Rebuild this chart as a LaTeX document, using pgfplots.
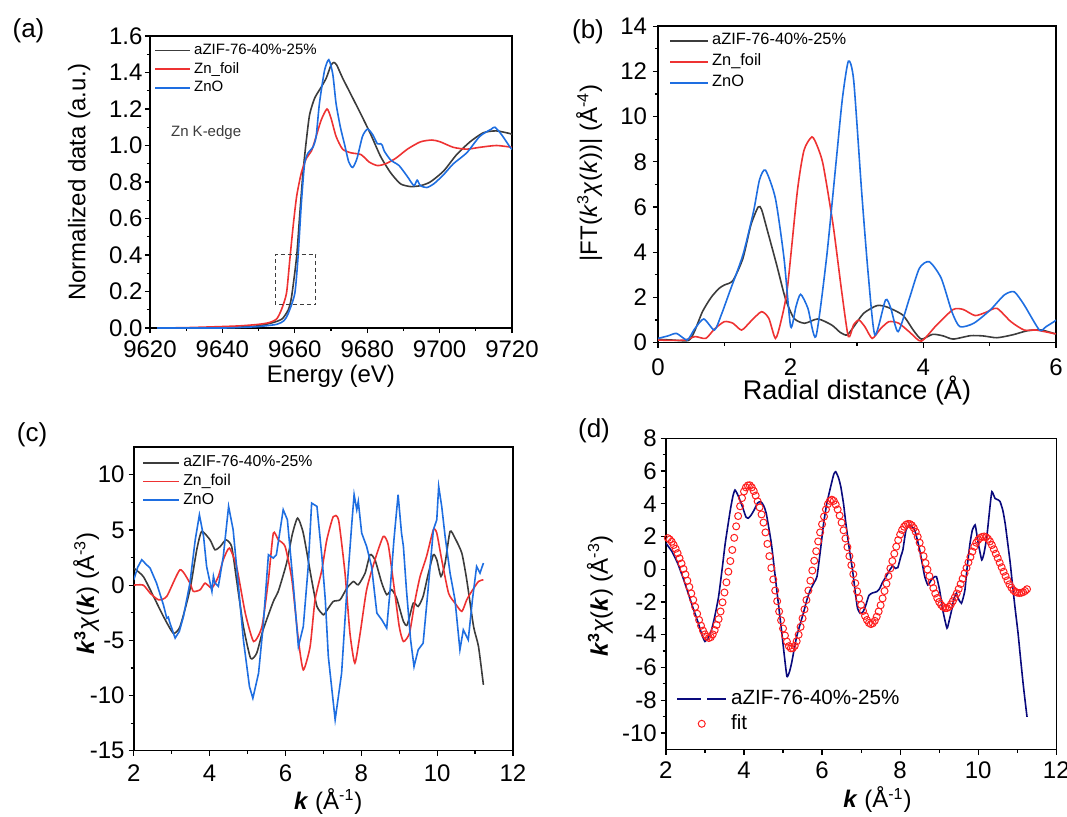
\documentclass[border=0pt]{standalone}
\usepackage{pgfplots}
\pgfplotsset{compat=1.18}
\usepackage{fontspec}
\setmainfont{Liberation Sans}
\definecolor{cblk}{RGB}{60,60,60}
\definecolor{cred}{RGB}{238,50,50}
\definecolor{cblu}{RGB}{30,110,225}
\definecolor{cnavy}{RGB}{10,10,125}
\definecolor{cfit}{RGB}{255,30,30}
\pgfplotsset{
  myaxis/.style={
    scale only axis,
    anchor=south west,
    axis line style={line width=0.75pt},
    tick align=outside,
    xtick pos=left, ytick pos=left,
    minor tick num=1,
    major tick length=2.6pt, minor tick length=1.6pt,
    every tick/.style={black, line width=0.6pt},
    tick label style={font=\fontsize{12}{14}\selectfont, inner sep=1pt},
    /pgf/number format/assume math mode=true,
    label style={font=\fontsize{12}{14}\selectfont},
    legend cell align=left,
    every axis plot/.append style={line width=0.8pt},
  },
  dashleg/.style={legend image code/.code={\draw[##1, line width=0.8pt, dash pattern=on 12pt off 3pt on 12pt] (0pt,0pt) -- (24.5pt,0pt);}},
  markleg/.style={legend image code/.code={\draw[##1] plot coordinates {(12.25pt,0pt)};}},
}
\begin{document}
\begin{tikzpicture}
\useasboundingbox (0,0) rectangle (533.5pt,408pt);
% ---------------- (a)
\begin{axis}[myaxis, at={(75pt,244pt)}, width=181pt, height=146pt,
  xmin=9620, xmax=9720, ymin=0, ymax=1.6,
  xtick={9620,9640,...,9720}, ytick={0,0.2,...,1.6},
  x tick label style={yshift=-2.7pt, /pgf/number format/1000 sep={}},
  y tick label style={xshift=0pt, /pgf/number format/fixed, /pgf/number format/fixed zerofill, /pgf/number format/precision=1},
  xlabel={Energy (eV)}, ylabel={Normalized data (a.u.)},
  xlabel style={at={(axis description cs:0.5,-0.167)}, anchor=center},
  ylabel style={at={(axis description cs:-0.196,0.5)}, anchor=center},
  legend style={at={(axis description cs:0.011,0.976)}, anchor=north west, draw=none, fill=none, inner sep=0pt, row sep=2.4pt, column sep=1.5pt, font=\fontsize{7.5}{9}\selectfont, nodes={inner sep=0pt, text height=5.4pt, text depth=1.6pt}},
  legend image code/.code={\draw[#1, line width=0.9pt] (0pt,0pt) -- (17.5pt,0pt);},
]
\addplot[cblk, smooth, tension=0.4] coordinates {(9622,0) (9630,0) (9640,0.002) (9645,0.005) (9650,0.012) (9654,0.03) (9656.5,0.05) (9658.2,0.1) (9659.1,0.17) (9660.5,0.39) (9661.4,0.63) (9662.3,0.86) (9663.2,1.03) (9664.1,1.17) (9665.5,1.26) (9667.3,1.32) (9668.7,1.37) (9670.0,1.44) (9670.8,1.455) (9671.6,1.44) (9673.2,1.37) (9675.5,1.28) (9678.3,1.17) (9681.0,1.06) (9683.7,0.94) (9686.5,0.85) (9689.2,0.79) (9692.0,0.775) (9694.7,0.78) (9697.4,0.80) (9701.1,0.86) (9704.7,0.95) (9708.4,1.02) (9712.1,1.07) (9715.7,1.08) (9719.5,1.065) (9720,1.06)};
\addlegendentry{aZIF-76-40\%-25\%}
\addplot[cred, smooth, tension=0.4] coordinates {(9622,0) (9630,0.002) (9640,0.008) (9645,0.012) (9650,0.02) (9653,0.03) (9655,0.05) (9656.3,0.10) (9657.7,0.19) (9658.6,0.37) (9659.5,0.55) (9660.5,0.72) (9661.8,0.85) (9663.2,0.93) (9664.6,0.97) (9665.9,1.05) (9667.3,1.14) (9668.9,1.20) (9670.0,1.15) (9671.4,1.05) (9673.2,0.98) (9675.5,0.96) (9678.3,0.95) (9680.5,0.91) (9682.8,0.89) (9685.1,0.90) (9687.9,0.93) (9691.1,0.98) (9694.7,1.02) (9697.9,1.03) (9700.2,1.02) (9703.8,0.99) (9707.5,0.98) (9711.1,0.99) (9715.7,1.0) (9720,0.99)};
\addlegendentry{Zn\_foil}
\addplot[cblu, smooth, tension=0.4] coordinates {(9622,0) (9640,0) (9645,0.003) (9650,0.008) (9655,0.02) (9657,0.04) (9658.2,0.08) (9660.0,0.19) (9660.9,0.39) (9661.8,0.68) (9662.7,0.90) (9663.7,0.96) (9665.0,0.99) (9665.9,1.05) (9666.8,1.23) (9668.2,1.41) (9669.4,1.47) (9670.5,1.39) (9671.4,1.23) (9672.6,1.10) (9673.7,1.01) (9674.9,0.91) (9676.0,0.88) (9677.2,0.93) (9678.7,1.05) (9680.1,1.09) (9681.5,1.06) (9682.8,1.01) (9683.7,1.01) (9684.2,1.0) (9684.7,0.97) (9686.5,0.92) (9688.8,0.89) (9691.1,0.83) (9692.9,0.78) (9693.8,0.81) (9694.7,0.78) (9696.5,0.77) (9698.4,0.79) (9701.1,0.84) (9703.8,0.90) (9707.5,0.96) (9711.1,1.05) (9714.3,1.09) (9715.3,1.10) (9717.1,1.06) (9719.5,0.99) (9720,0.98)};
\addlegendentry{ZnO}
\draw[cblk, line width=0.5pt, dash pattern=on 2pt off 1.5pt] (axis cs:9654.6,0.127) rectangle (axis cs:9665.8,0.405);
\node[font=\fontsize{7.5}{9}\selectfont, text=cblk] at (axis cs:9635.5,1.07) {Zn K-edge};
\end{axis}
% ---------------- (b)
\begin{axis}[myaxis, at={(329pt,236.65pt)}, width=199pt, height=158.3pt,
  xmin=0, xmax=6, ymin=0, ymax=14,
  xtick={0,2,4,6}, ytick={0,2,...,14},
  x tick label style={yshift=-4.2pt},
  y tick label style={xshift=-1.7pt},
  xlabel={Radial distance (Å)}, ylabel={|FT(\textit{k}\textsuperscript{3}\textit{χ}(\textit{k}))| (Å\textsuperscript{-4})},
  xlabel style={font=\fontsize{13.5}{15}\selectfont, at={(axis description cs:0.5,-0.15)}, anchor=center},
  ylabel style={at={(axis description cs:-0.173,0.536)}, anchor=center},
  legend style={at={(axis description cs:0.027,0.979)}, anchor=north west, draw=none, fill=none, inner sep=0pt, row sep=2.9pt, column sep=1.6pt, font=\fontsize{8.2}{10}\selectfont, nodes={inner sep=0pt, text height=5.9pt, text depth=1.7pt}},
  legend image code/.code={\draw[#1, line width=0.9pt] (0pt,0pt) -- (19pt,0pt);},
]
\addplot[cblk, smooth, tension=0.4] coordinates {(0,0.15) (0.2,0.12) (0.46,0.1) (0.55,0.5) (0.67,1.37) (0.8,2.0) (0.92,2.4) (1.0,2.55) (1.13,2.75) (1.28,3.73) (1.4,5.2) (1.51,6.0) (1.56,5.9) (1.64,5.06) (1.79,3.43) (1.92,1.96) (2.05,1.08) (2.21,0.86) (2.41,1.05) (2.62,0.78) (2.75,0.45) (2.85,0.34) (2.95,0.7) (3.1,1.3) (3.3,1.64) (3.45,1.58) (3.69,1.22) (3.85,0.55) (3.97,0.16) (4.14,0.37) (4.3,0.3) (4.45,0.16) (4.71,0.31) (4.9,0.3) (5.11,0.22) (5.35,0.35) (5.57,0.53) (5.78,0.56) (6.0,0.38)};
\addlegendentry{aZIF-76-40\%-25\%}
\addplot[cred, smooth, tension=0.4] coordinates {(0,0.12) (0.2,0.1) (0.41,0.12) (0.56,0.27) (0.72,0.19) (0.85,0.6) (1.0,0.93) (1.13,0.86) (1.26,0.56) (1.4,0.95) (1.56,1.37) (1.67,1.08) (1.77,0.19) (1.85,0.9) (1.95,2.4) (2.10,6.68) (2.2,8.5) (2.32,9.1) (2.4,8.7) (2.49,7.86) (2.64,5.2) (2.77,2.25) (2.87,0.27) (2.95,0.8) (3.03,1.0) (3.12,0.7) (3.23,0.19) (3.35,0.6) (3.48,0.93) (3.63,0.86) (3.8,0.45) (3.97,0.07) (4.2,0.78) (4.45,1.47) (4.6,1.47) (4.78,1.2) (4.95,1.35) (5.11,1.52) (5.32,0.93) (5.52,0.56) (5.7,0.56) (5.96,0.41) (6.0,0.4)};
\addlegendentry{Zn\_foil}
\addplot[cblu, smooth, tension=0.4] coordinates {(0,0.19) (0.15,0.3) (0.28,0.41) (0.44,0.12) (0.55,0.6) (0.69,1.05) (0.85,0.56) (0.95,1.2) (1.08,2.25) (1.28,3.88) (1.44,5.8) (1.53,7.2) (1.62,7.63) (1.77,6.38) (1.90,3.73) (2.0,0.71) (2.08,1.6) (2.15,2.14) (2.26,1.52) (2.38,0.27) (2.54,3.73) (2.69,8.15) (2.78,10.8) (2.87,12.45) (2.95,11.6) (3.07,6.68) (3.17,3.0) (3.27,0.34) (3.43,1.89) (3.51,1.52) (3.62,0.49) (3.79,1.96) (3.94,3.29) (4.09,3.58) (4.27,2.85) (4.43,1.37) (4.55,0.71) (4.76,0.86) (5.01,1.45) (5.22,2.11) (5.37,2.25) (5.52,1.67) (5.75,0.56) (5.85,0.71) (5.97,0.93) (6.0,1.0)};
\addlegendentry{ZnO}
\end{axis}
% ---------------- (c)
\begin{axis}[myaxis, at={(66.9pt,32.65pt)}, width=189.6pt, height=151.8pt,
  xmin=2, xmax=12, ymin=-15, ymax=12.5,
  xtick={2,4,...,12}, ytick={-15,-10,...,10},
  x tick label style={yshift=-3.3pt},
  y tick label style={xshift=-0.8pt},
  xlabel={\textbf{\textit{k}} (Å\textsuperscript{-1})}, ylabel={\textbf{\textit{k}\textsuperscript{3}}\textit{χ}(\textbf{\textit{k}}) (Å\textsuperscript{-3})},
  xlabel style={at={(axis description cs:0.513,-0.166)}, anchor=center},
  ylabel style={at={(axis description cs:-0.126,0.518)}, anchor=center},
  legend style={at={(axis description cs:0.022,0.974)}, anchor=north west, draw=none, fill=none, inner sep=0pt, row sep=2.1pt, column sep=1.7pt, font=\fontsize{7.9}{9.5}\selectfont, nodes={inner sep=0pt, text height=5.7pt, text depth=1.6pt}},
  legend image code/.code={\draw[#1, line width=0.9pt] (0pt,0pt) -- (17.8pt,0pt);},
]
\addplot[cblk, smooth, tension=0.35] coordinates {(2.00,1.54) (2.25,0.78) (2.52,-1.02) (2.78,-2.83) (3.04,-4.35) (3.22,-3.75) (3.48,-0.42) (3.66,3.2) (3.79,4.86) (4.01,4.1) (4.14,3.2) (4.28,3.5) (4.43,4.1) (4.58,3.5) (4.71,0.48) (4.89,-3.75) (5.08,-6.62) (5.24,-6.17) (5.41,-4.05) (5.68,-1.48) (5.81,-0.57) (6.03,2.0) (6.18,4.6) (6.32,6.07) (6.47,4.7) (6.69,0.48) (6.83,-1.93) (7.00,-2.69) (7.09,-2.3) (7.26,-1.48) (7.44,-1.33) (7.62,-0.27) (7.79,0.33) (7.92,0.03) (8.10,1.09) (8.23,2.75) (8.36,2.3) (8.54,0.18) (8.67,-0.87) (8.80,-0.42) (8.93,-1.17) (9.11,-3.29) (9.21,-3.6) (9.37,-1.63) (9.50,-1.93) (9.63,-1.02) (9.76,0.94) (9.90,2.75) (9.99,2.3) (10.10,0.78) (10.21,2.0) (10.34,4.86) (10.47,4.26) (10.65,2.9) (10.78,0.48) (10.96,-3.75) (11.09,-5.56) (11.22,-9.04)};
\addlegendentry{aZIF-76-40\%-25\%}
\addplot[cred, smooth, tension=0.35] coordinates {(2.00,0) (2.25,0) (2.43,-0.72) (2.65,-1.33) (2.87,-1.02) (3.22,1.39) (3.48,0.18) (3.57,-0.57) (3.75,-0.42) (3.88,0.18) (4.06,-0.27) (4.23,0.78) (4.36,2.3) (4.52,3.35) (4.71,1.69) (4.94,-2.54) (5.16,-5.11) (5.38,-3.75) (5.55,0.48) (5.68,4.71) (5.81,4.1) (5.99,3.5) (6.17,0.48) (6.34,-4.96) (6.47,-7.68) (6.65,-5.56) (6.78,-1.33) (6.96,1.39) (7.09,4.1) (7.26,6.2) (7.40,5.9) (7.57,1.09) (7.70,-4.35) (7.83,-7.07) (7.97,-4.35) (8.14,-0.42) (8.36,2.3) (8.58,4.41) (8.71,3.65) (8.85,0.18) (9.00,-3.75) (9.11,-5.11) (9.27,-4.35) (9.42,-1.33) (9.55,0.78) (9.72,2.6) (9.90,5.01) (9.99,4.71) (10.12,2.3) (10.30,-0.72) (10.47,-1.63) (10.65,-2.38) (10.78,-1.33) (10.91,-0.57) (11.09,0.33) (11.22,0.48)};
\addlegendentry{Zn\_foil}
\addplot[cblu] coordinates {(2.00,0.48) (2.1,1.6) (2.21,2.3) (2.32,1.9) (2.43,1.54) (2.60,0.18) (2.78,-1.78) (2.87,-3.0) (2.91,-2.9) (2.95,-3.4) (3.09,-4.8) (3.2,-4.2) (3.31,-2.83) (3.48,0.18) (3.62,4.1) (3.73,6.37) (3.84,4.41) (3.92,1.69) (4.06,-0.57) (4.10,0.8) (4.14,0.2) (4.23,-0.12) (4.36,2.6) (4.50,7.13) (4.62,5.01) (4.76,-0.12) (4.89,-4.96) (5.05,-9.19) (5.14,-10.25) (5.29,-7.98) (5.41,-3.75) (5.55,2.75) (5.68,2.45) (5.76,2.75) (5.94,6.83) (6.05,5.92) (6.21,-0.12) (6.34,-5.56) (6.47,-3.75) (6.60,1.69) (6.69,7.43) (6.83,7.13) (6.96,2.6) (7.05,-1.33) (7.13,-6.47) (7.31,-12.2) (7.48,-7.98) (7.62,-0.42) (7.75,5.62) (7.81,8.19) (7.88,6.83) (7.92,7.58) (8.01,4.71) (8.14,3.5) (8.27,1.69) (8.41,-2.54) (8.54,-3.14) (8.67,-3.9) (8.76,-0.42) (8.86,4.1) (8.97,8.19) (9.06,4.71) (9.11,3.5) (9.19,-0.42) (9.30,-4.96) (9.39,-7.38) (9.50,-5.86) (9.63,-5.26) (9.76,-0.42) (9.90,5.01) (9.99,5.92) (10.04,8.94) (10.12,7.13) (10.21,4.41) (10.34,1.09) (10.47,-1.33) (10.60,-5.86) (10.69,-4.05) (10.82,-4.96) (10.93,-1.33) (11.04,1.69) (11.13,1.09) (11.22,2.0)};
\addlegendentry{ZnO}
\end{axis}
% ---------------- (d)
\begin{axis}[myaxis, at={(332.95pt,33.35pt)}, width=195.2pt, height=155.5pt,
  xmin=2, xmax=12, ymin=-11, ymax=8,
  xtick={2,4,...,12}, ytick={-10,-8,...,8},
  x tick label style={yshift=-2.3pt},
  y tick label style={xshift=-0.8pt},
  xlabel={\textbf{\textit{k}} (Å\textsuperscript{-1})}, ylabel={\textbf{\textit{k}\textsuperscript{3}}\textit{χ}(\textbf{\textit{k}}) (Å\textsuperscript{-3})},
  xlabel style={at={(axis description cs:0.542,-0.163)}, anchor=center},
  ylabel style={at={(axis description cs:-0.169,0.493)}, anchor=center},
  legend style={at={(axis description cs:0.026,0.193)}, anchor=north west, draw=none, fill=none, inner sep=0pt, row sep=2.8pt, column sep=2pt, font=\fontsize{10.3}{12}\selectfont, nodes={inner sep=0pt, text height=7.4pt, text depth=2.1pt}},
]
\addplot[cnavy, smooth, tension=0.3, dashleg] coordinates {(2.00,1.59) (2.15,1.1) (2.30,0.37) (2.45,-0.6) (2.57,-1.46) (2.70,-2.4) (2.83,-3.29) (2.92,-4.0) (3.00,-4.41) (3.08,-4.2) (3.17,-3.70) (3.25,-2.9) (3.35,-1.67) (3.45,0.2) (3.52,1.59) (3.65,3.62) (3.72,4.5) (3.77,4.84) (3.85,4.5) (3.96,3.82) (4.05,3.2) (4.11,3.12) (4.18,3.3) (4.26,3.62) (4.35,4.05) (4.43,4.13) (4.50,3.9) (4.57,3.42) (4.70,1.59) (4.83,-1.06) (4.96,-3.70) (5.03,-5.2) (5.10,-6.55) (5.16,-6.3) (5.22,-5.73) (5.35,-4.11) (5.52,-2.69) (5.62,-1.8) (5.70,-1.26) (5.80,-0.8) (5.87,-0.45) (5.95,1.0) (6.04,2.80) (6.12,4.0) (6.22,5.04) (6.30,5.8) (6.35,5.96) (6.42,5.6) (6.48,5.04) (6.55,4.0) (6.61,2.80) (6.70,1.2) (6.78,-0.04) (6.85,-1.4) (6.91,-2.4) (6.98,-2.7) (7.05,-2.6) (7.12,-2.2) (7.20,-1.6) (7.29,-1.45) (7.40,-1.37) (7.47,-1.2) (7.55,-0.8) (7.64,-0.45) (7.72,-0.1) (7.81,0.2) (7.88,0.05) (7.94,0.1) (8.02,0.8) (8.07,1.18) (8.15,2.4) (8.24,2.71) (8.30,2.6) (8.37,2.4) (8.44,1.8) (8.50,1.18) (8.57,0.3) (8.63,-0.45) (8.71,-0.96) (8.80,-0.65) (8.86,-0.5) (8.93,-0.45) (9.01,-1.26) (9.10,-2.59) (9.20,-3.6) (9.26,-3.1) (9.32,-2.49) (9.38,-1.8) (9.44,-1.47) (9.50,-1.85) (9.57,-2.08) (9.62,-1.7) (9.66,-1.26) (9.72,0.2) (9.79,1.59) (9.85,2.4) (9.92,2.71) (9.96,2.2) (10.00,1.59) (10.09,0.57) (10.15,1.0) (10.22,1.98) (10.30,3.8) (10.35,4.74) (10.43,4.33) (10.50,4.25) (10.56,4.13) (10.63,3.6) (10.69,2.8) (10.75,1.7) (10.82,0.37) (10.88,-1.0) (10.95,-2.49) (11.02,-3.9) (11.08,-5.35) (11.16,-7.2) (11.25,-9.02)};
\addlegendentry{aZIF-76-40\%-25\%}
\addplot[only marks, mark=o, mark size=1.75pt, cfit, mark options={line width=0.5pt}, markleg] coordinates {(2.05,1.90) (2.10,1.82) (2.15,1.68) (2.20,1.48) (2.25,1.25) (2.30,0.98) (2.35,0.67) (2.40,0.35) (2.45,0.02) (2.50,-0.32) (2.55,-0.70) (2.60,-1.08) (2.65,-1.48) (2.70,-1.87) (2.75,-2.30) (2.80,-2.72) (2.85,-3.10) (2.90,-3.45) (2.95,-3.75) (3.00,-3.98) (3.05,-4.13) (3.10,-4.20) (3.15,-4.15) (3.20,-3.98) (3.25,-3.72) (3.30,-3.40) (3.35,-3.05) (3.40,-2.58) (3.45,-2.02) (3.50,-1.42) (3.55,-0.80) (3.60,-0.15) (3.65,0.50) (3.70,1.18) (3.75,1.92) (3.80,2.62) (3.85,3.25) (3.90,3.85) (3.95,4.35) (4.00,4.75) (4.05,5.00) (4.10,5.12) (4.15,5.13) (4.20,5.00) (4.25,4.78) (4.30,4.50) (4.35,4.15) (4.40,3.78) (4.45,3.35) (4.50,2.85) (4.55,2.25) (4.60,1.55) (4.65,0.80) (4.70,0.08) (4.75,-0.62) (4.80,-1.30) (4.85,-1.95) (4.90,-2.58) (4.95,-3.12) (5.00,-3.62) (5.05,-4.05) (5.10,-4.42) (5.15,-4.70) (5.20,-4.83) (5.25,-4.82) (5.30,-4.68) (5.35,-4.40) (5.40,-4.00) (5.45,-3.52) (5.50,-3.00) (5.55,-2.45) (5.60,-1.88) (5.65,-1.30) (5.70,-0.70) (5.75,-0.08) (5.80,0.52) (5.85,1.10) (5.90,1.70) (5.95,2.25) (6.00,2.75) (6.05,3.22) (6.10,3.65) (6.15,3.98) (6.20,4.18) (6.25,4.25) (6.30,4.18) (6.35,3.95) (6.40,3.65) (6.45,3.28) (6.50,2.85) (6.55,2.38) (6.60,1.88) (6.65,1.35) (6.70,0.80) (6.75,0.25) (6.80,-0.30) (6.85,-0.85) (6.90,-1.35) (6.95,-1.78) (7.00,-2.18) (7.05,-2.55) (7.10,-2.85) (7.15,-3.10) (7.20,-3.28) (7.25,-3.35) (7.30,-3.30) (7.35,-3.15) (7.40,-2.90) (7.45,-2.58) (7.50,-2.20) (7.55,-1.78) (7.60,-1.33) (7.65,-0.88) (7.70,-0.42) (7.75,0.05) (7.80,0.50) (7.85,0.95) (7.90,1.38) (7.95,1.78) (8.00,2.12) (8.05,2.40) (8.10,2.60) (8.15,2.72) (8.20,2.77) (8.25,2.76) (8.30,2.68) (8.35,2.52) (8.40,2.28) (8.45,1.98) (8.50,1.62) (8.55,1.22) (8.60,0.80) (8.65,0.38) (8.70,-0.02) (8.75,-0.42) (8.80,-0.80) (8.85,-1.15) (8.90,-1.48) (8.95,-1.76) (9.00,-2.00) (9.05,-2.18) (9.10,-2.30) (9.15,-2.37) (9.20,-2.37) (9.25,-2.30) (9.30,-2.15) (9.35,-1.95) (9.40,-1.72) (9.45,-1.48) (9.50,-1.20) (9.55,-0.90) (9.60,-0.58) (9.65,-0.25) (9.70,0.08) (9.75,0.42) (9.80,0.75) (9.85,1.08) (9.90,1.38) (9.95,1.62) (10.00,1.80) (10.05,1.92) (10.10,1.98) (10.15,2.00) (10.20,1.96) (10.25,1.86) (10.30,1.70) (10.35,1.48) (10.40,1.22) (10.45,0.95) (10.50,0.68) (10.55,0.40) (10.60,0.12) (10.65,-0.15) (10.70,-0.42) (10.75,-0.68) (10.80,-0.92) (10.85,-1.12) (10.90,-1.28) (10.95,-1.38) (11.00,-1.43) (11.05,-1.45) (11.10,-1.44) (11.15,-1.40) (11.20,-1.33) (11.25,-1.22)};
\addlegendentry{fit}
\end{axis}
% panel labels
\node[font=\fontsize{13}{15}\selectfont] at (14.25pt,392.5pt) {(a)};
\node[font=\fontsize{13}{15}\selectfont] at (294pt,392pt) {(b)};
\node[font=\fontsize{13}{15}\selectfont] at (16pt,190.5pt) {(c)};
\node[font=\fontsize{13}{15}\selectfont] at (297pt,192.5pt) {(d)};
\end{tikzpicture}
\end{document}
